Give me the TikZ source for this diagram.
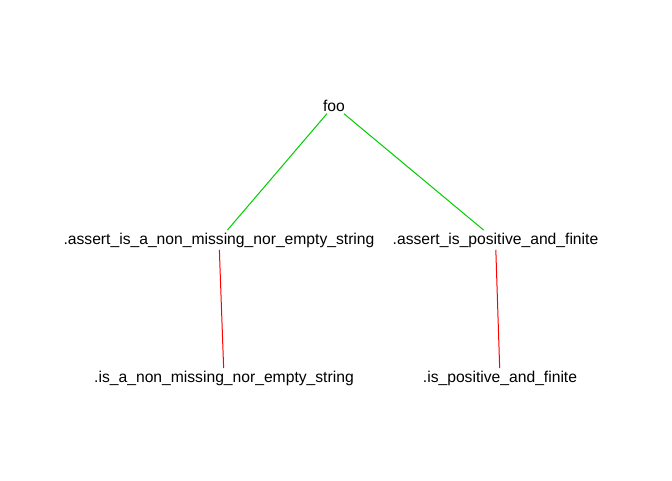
\documentclass[tikz,border=0pt]{standalone}
\usepackage{fontspec}
\setmainfont{Liberation Sans}

\tikzset{every picture/.style={line width=0.75pt}}
\tikzset{
  fnode/.style={font=\fontsize{11.75}{14}\selectfont, inner sep=1.5pt, anchor=base},
  callgreen/.style={draw={rgb, 255:red, 0; green, 205; blue, 0}},
  callred/.style={draw={rgb, 255:red, 255; green, 0; blue, 0}}
}

\begin{document}
\begin{tikzpicture}[x=0.75pt,y=0.75pt,yscale=-1,xscale=1]
	\useasboundingbox (0,0) rectangle (672,480);

	% Text Node
	\node [fnode] (foo) at (334,111) {foo};
	% Text Node
	\node [fnode] (assertstr) at (219,244) {.assert\_is\_a\_non\_missing\_nor\_empty\_string};
	% Text Node
	\node [fnode] (assertpos) at (495.5,244) {.assert\_is\_positive\_and\_finite};
	% Text Node
	\node [fnode] (isstr) at (224,382) {.is\_a\_non\_missing\_nor\_empty\_string};
	% Text Node
	\node [fnode] (ispos) at (500,382) {.is\_positive\_and\_finite};

	%Straight Lines
	\draw [callgreen] (foo) -- (assertstr) ;
	\draw [callgreen] (foo) -- (assertpos) ;
	%Straight Lines
	\draw [callred] (assertstr) -- (isstr) ;
	\draw [callred] (assertpos) -- (ispos) ;

\end{tikzpicture}
\end{document}
